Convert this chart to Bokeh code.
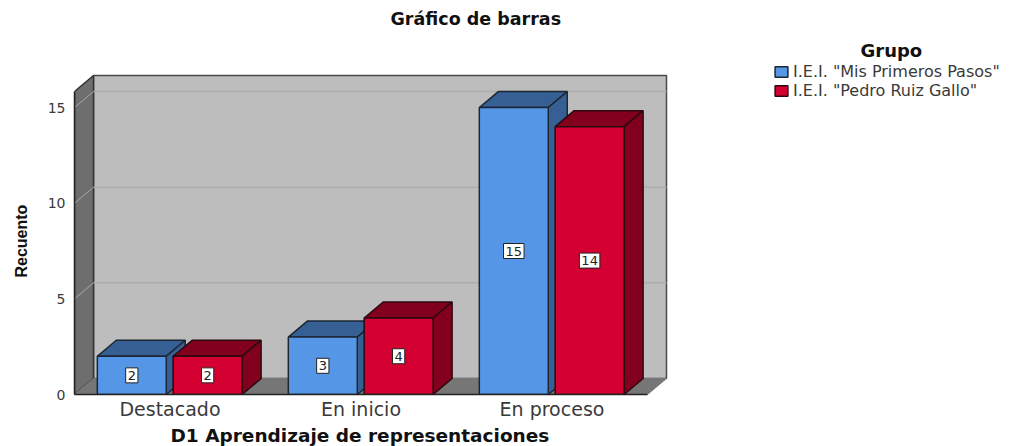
from bokeh.plotting import figure
from bokeh.models import FixedTicker, Legend, LegendItem, Title
from bokeh.embed import file_html
from bokeh.resources import INLINE
from bokeh.core.properties import value

categories = ["Destacado", "En inicio", "En proceso"]
series_names = ['I.E.I. "Mis Primeros Pasos"', 'I.E.I. "Pedro Ruiz Gallo"']
blue_values = [2, 3, 15]
red_values = [2, 4, 14]
y_ticks = [0, 5, 10, 15]

FONT = "DejaVu Sans"
TXT = "#3a3a3a"
DX, DY = 0.0995, 0.836      # 3D depth in data units
BW = 0.361
AX_TOP = 15.84
X_END = -0.5 + 594 / 191
Y_END = 326 / 19.13

p = figure(width=998, height=446, frame_width=594, frame_height=326,
           x_range=(-0.5, X_END), y_range=(0, Y_END),
           min_border_left=66, min_border_right=330, min_border_top=68, min_border_bottom=52,
           toolbar_location=None, output_backend="svg", background_fill_color="white")
p.outline_line_color = None
p.grid.visible = False

# walls
p.patch([-0.5 + DX, 2.5 + DX, 2.5 + DX, -0.5 + DX], [DY, DY, AX_TOP + DY, AX_TOP + DY],
        fill_color="#bdbdbd", line_color="#4a4a4a", line_width=1.5)
p.patch([-0.5, -0.5 + DX, -0.5 + DX, -0.5], [0, DY, AX_TOP + DY, AX_TOP],
        fill_color="#6e6e6e", line_color="#333333", line_width=1.5)
p.patch([-0.5, 2.5, 2.5 + DX, -0.5 + DX], [0, 0, DY, DY],
        fill_color="#767676", line_color="#767676", line_width=1)
# gridlines, on the back and the side wall
for t in y_ticks[1:]:
    p.line([-0.5 + DX, 2.5 + DX], [t + DY, t + DY], line_color="#adadad", line_width=1.5)
    p.line([-0.5, -0.5 + DX], [t, t + DY], line_color="#a8a8a8", line_width=1)


def bars(vals, off, front, shade, line):
    xl = [i + off - BW / 2 for i in range(len(vals))]
    xr = [x + BW for x in xl]
    p.patches([[a, b, b + DX, a + DX] for a, b in zip(xl, xr)],
              [[v, v, v + DY, v + DY] for v in vals],
              fill_color=shade, line_color=line, line_width=1.5)
    p.patches([[b, b + DX, b + DX, b] for b in xr],
              [[0, DY, v + DY, v] for v in vals],
              fill_color=shade, line_color=line, line_width=1.5)
    r = p.quad(left=xl, right=xr, bottom=0, top=vals,
               fill_color=front, line_color=line, line_width=1.5)
    xs = [i + off for i in range(len(vals))]
    p.text(xs, [v / 2 for v in vals], text=[str(v) for v in vals],
           text_align="center", text_baseline="middle", text_font=value(FONT),
           text_font_size="13px", text_color="#222222",
           background_fill_color="white", border_line_color="#222222", border_line_width=1,
           padding=(2, 3))
    return r


r_blue = bars(blue_values, -0.2, "#5596e6", "#365f94", "#1c2733")
r_red = bars(red_values, 0.197, "#d50032", "#82001e", "#2a0a10")

# axes
xa = p.xaxis[0]
xa.ticker = FixedTicker(ticks=[0, 1, 2])
xa.major_label_overrides = {i: c for i, c in enumerate(categories)}
xa.bounds = (-0.5, 2.5)
xa.axis_line_color = "#222222"
xa.axis_line_width = 1.5
xa.major_tick_line_color = None
xa.major_tick_out = 0
xa.major_tick_in = 0
xa.minor_tick_line_color = None
xa.major_label_text_font = FONT
xa.major_label_text_font_size = "19px"
xa.major_label_text_color = TXT
xa.major_label_standoff = 3

ya = p.yaxis[0]
ya.ticker = FixedTicker(ticks=y_ticks)
ya.bounds = (0, AX_TOP)
ya.axis_line_color = "#222222"
ya.axis_line_width = 1.5
ya.major_tick_line_color = None
ya.major_tick_out = 0
ya.major_tick_in = 0
ya.minor_tick_line_color = None
ya.major_label_text_font = FONT
ya.major_label_text_font_size = "14px"
ya.major_label_text_color = TXT
ya.major_label_standoff = 9

p.add_layout(Title(text="Recuento", align="left", offset=117, standoff=25, vertical_align="top",
                   text_font="Liberation Sans", text_font_size="16px", text_font_style="bold",
                   text_color="#111111"), "left")
p.add_layout(Title(text="D1 Aprendizaje de representaciones", align="left", offset=96, standoff=1,
                   text_font=FONT, text_font_size="18.5px", text_font_style="bold",
                   text_color="#111111"), "below")
p.add_layout(Title(text="Grupo", align="left", offset=786, standoff=16,
                   text_font=FONT, text_font_size="18px", text_font_style="bold",
                   text_color="#111111"), "above")
p.add_layout(Title(text="Gráfico de barras", align="left", offset=316, standoff=1,
                   text_font=FONT, text_font_size="17.5px", text_font_style="bold",
                   text_color="#111111"), "above")

legend = Legend(items=[LegendItem(label=value(series_names[0]), renderers=[r_blue]),
                       LegendItem(label=value(series_names[1]), renderers=[r_red])],
                location=(105, 294), background_fill_alpha=0, border_line_color=None,
                glyph_width=16, glyph_height=13, label_height=13, spacing=-5,
                label_standoff=4, padding=0, margin=0,
                label_text_font=FONT, label_text_font_size="16px", label_text_color=TXT)
p.add_layout(legend, "right")

open("out.html", "w").write(file_html(p, INLINE))
